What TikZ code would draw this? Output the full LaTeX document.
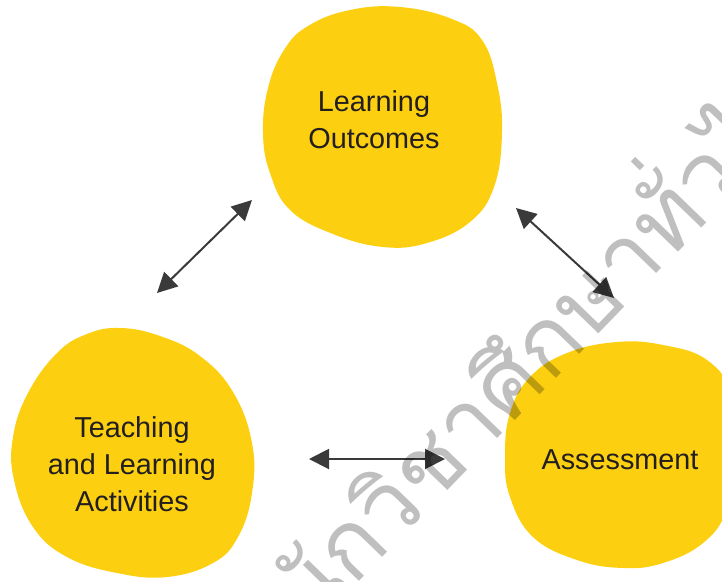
\documentclass[tikz,border=0pt]{standalone}
\usepackage{fontspec}
\setmainfont{Liberation Sans}
\newfontfamily\thaifont[Script=Thai]{Loma}
\usepackage{xcolor}
\usetikzlibrary{arrows.meta, calc, positioning}
\definecolor{blobyellow}{RGB}{252,208,17}
\definecolor{textdark}{RGB}{35,31,32}
\definecolor{arrowgray}{RGB}{58,58,58}
\tikzset{
    blob/.style={
        fill=blobyellow,
        draw=none
    },
    blobtext/.style={
        align=center,
        text=textdark,
        inner sep=0pt,
        font=\fontsize{28.8}{36.8}\selectfont
    },
    biarrow/.style={
        draw=arrowgray,
        line width=2pt,
        {Triangle[length=20pt,width=20pt]}-{Triangle[length=20pt,width=20pt]}
    },
    watermark/.style={
        text=black,
        opacity=0.25,
        inner sep=0pt,
        font=\thaifont\fontsize{93}{104}\selectfont
    }
}

\begin{document}
\begin{tikzpicture}[x=1pt, y=-1pt]

\useasboundingbox (0,0) rectangle (722,581);
\clip (0,0) rectangle (722,581);

% Blobs
\fill[blob] plot[smooth cycle, tension=0.7] coordinates {(284,50) (308,26) (350,10) (400,7) (452,19) (482,40) (497,83) (502,133) (494,187) (470,222) (427,243) (383,247) (333,234) (290,210) (270,173) (263,133) (268,88)};
\fill[blob] plot[smooth cycle, tension=0.7] coordinates {(120,328) (160,336) (200,356) (233,392) (252,443) (252,493) (238,537) (213,563) (167,577) (117,573) (67,557) (33,527) (14,480) (13,437) (28,393) (57,353) (87,334)};
\fill[blob] plot[smooth cycle, tension=0.7] coordinates {(617,342) (663,345) (707,360) (732,395) (740,455) (727,510) (703,543) (663,563) (623,568) (577,560) (533,537) (510,497) (505,457) (510,413) (530,377) (567,353)};

% Labels
\node[blobtext] (lo) at (374,120) {Learning\\Outcomes};
\node[blobtext] (tla) at (132,464) {Teaching\\and Learning\\Activities};
\node[blobtext] (as) at (620,460) {Assessment};

% Arrow ends
\coordinate (lo-tla) at ($(lo)+(-122,80)$);
\coordinate (tla-lo) at ($(tla)+(25,-171)$);
\coordinate (lo-as) at ($(lo)+(142,88)$);
\coordinate (as-lo) at ($(as)+(-6,-162)$);
\coordinate (tla-as) at ($(tla)+(177,-5)$);
\coordinate (as-tla) at ($(as)+(-175,-1)$);

\draw[biarrow] (tla-lo) -- (lo-tla);
\draw[biarrow] (lo-as) -- (as-lo);
\draw[biarrow] (tla-as) -- (as-tla);

% Watermark
\node[watermark, rotate=46] (wm) at (493,375) {สำนักวิชาศึกษาทั่วไป};

\end{tikzpicture}
\end{document}
